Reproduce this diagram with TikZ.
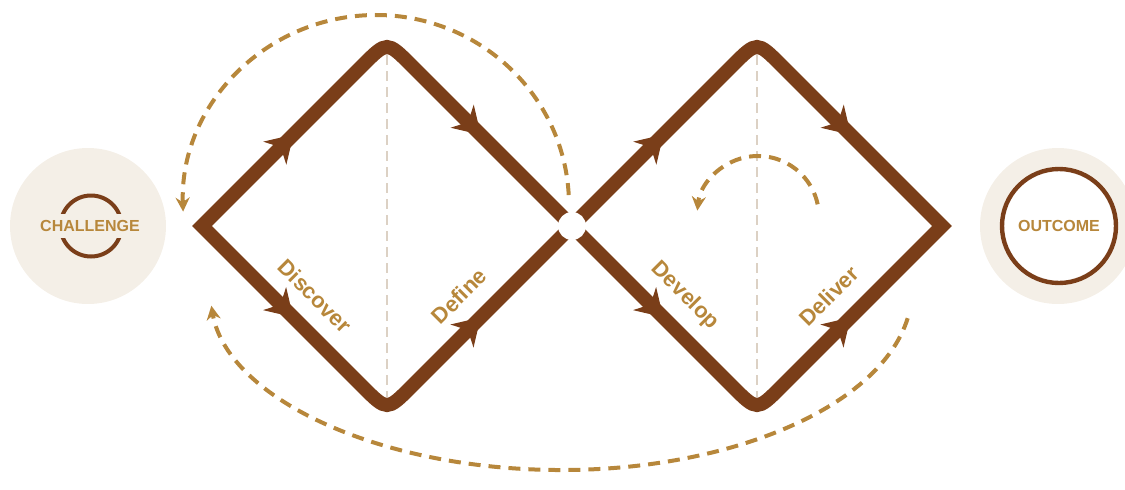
\documentclass[tikz,border=0pt]{standalone}
\usepackage{fontspec}
\setmainfont{Liberation Sans}
\usetikzlibrary{arrows.meta,calc,decorations.markings}
\definecolor{phasebrown}{HTML}{7A3E19}
\definecolor{phasegold}{HTML}{B7873B}
\definecolor{sand}{HTML}{F4EFE7}
\definecolor{guide}{HTML}{DCD1C4}

\begin{document}
\begin{tikzpicture}[x=0.5pt,y=0.5pt,
  flowtip/.tip={Stealth[length=13pt,width=16pt,inset=4pt]},
  phase/.style={phasebrown,line width=7pt,line join=miter,
    postaction=decorate,decoration={markings,
      mark=at position 0.125 with {\arrowreversed{flowtip}},
      mark=at position 0.375 with {\arrowreversed{flowtip}},
      mark=at position 0.625 with {\arrow{flowtip}},
      mark=at position 0.875 with {\arrow{flowtip}}}},
  loopback/.style={phasegold,line width=2pt,dash pattern=on 6pt off 4pt,
    -{Stealth[length=7pt,width=7pt]}},
  midline/.style={guide,line width=0.75pt,dash pattern=on 5pt off 3pt},
  stage/.style={phasegold,font=\fontsize{11}{12}\selectfont\bfseries},
  endlabel/.style={phasegold,font=\fontsize{8}{9}\selectfont\bfseries}]
  \useasboundingbox (0,0) rectangle (1125,489);
  % challenge and outcome
  \node[circle,fill=sand,minimum size=78pt] (challenge) at (88,263) {};
  \node[circle,draw=phasebrown,line width=2pt,minimum size=30.5pt] (challengering) at (91,263) {};
  \node[endlabel,fill=sand,inner xsep=1pt,inner ysep=3pt] (challengetext) at (90,263) {CHALLENGE};
  \node[circle,fill=sand,minimum size=78pt] (outcome) at (1058,263) {};
  \node[endlabel,circle,draw=phasebrown,fill=white,line width=2.2pt,minimum size=57pt] (outcomering) at (1059,263) {OUTCOME};
  % the two diamonds
  \foreach \cx in {387,757} {
    \draw[midline] (\cx,434) -- (\cx,92);
    \draw[phase] (\cx+185,263) -- ($(\cx,448)!.13!(\cx+185,263)$) .. controls (\cx,448) .. ($(\cx,448)!.13!(\cx-185,263)$)
      -- (\cx-185,263) -- ($(\cx,78)!.13!(\cx-185,263)$) .. controls (\cx,78) .. ($(\cx,78)!.13!(\cx+185,263)$) -- cycle;
  }
  \node[circle,fill=white,minimum size=14pt,inner sep=0pt] (hub) at (572,263) {};
  % stage labels
  \node[stage,rotate=-45] (discover) at (315,193) {Discover};
  \node[stage,rotate=45] (define) at (459,193) {Define};
  \node[stage,rotate=-45] (develop) at (685,193) {Develop};
  \node[stage,rotate=45] (deliver) at (829,193) {Deliver};
  % loops back
  \draw[loopback] ($(376,284)+(3:193 and 190)$) arc[start angle=3,end angle=182,x radius=193,y radius=190];
  \draw[loopback] ($(561,199)+(-9:351 and 180)$) arc[start angle=-9,end angle=-175,x radius=351,y radius=180];
  \draw[loopback] ($(758,272)+(12:61)$) arc[start angle=12,end angle=174,radius=61];
\end{tikzpicture}
\end{document}
